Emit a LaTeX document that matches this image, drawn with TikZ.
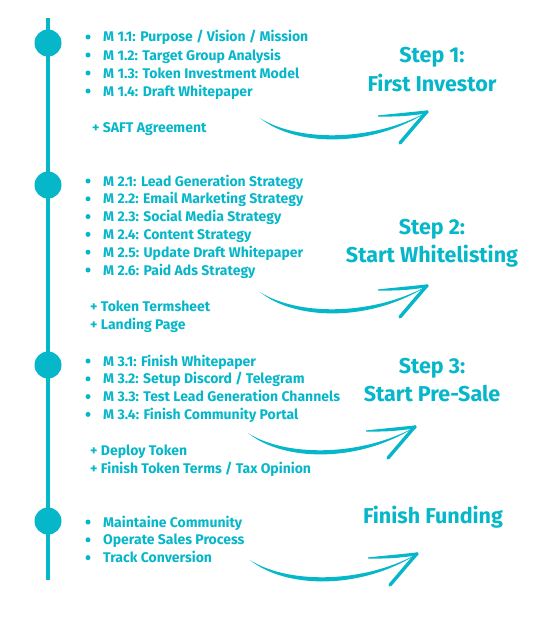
\documentclass[tikz,border=0pt]{standalone}
\usepackage{fontspec}
\setmainfont{Fira Sans}
\definecolor{teal}{RGB}{6,182,201}
\tikzset{
  item/.style={anchor=west, inner sep=0pt, text height=10pt, text depth=3pt, text=teal, font=\fontsize{14}{16}\selectfont\bfseries},
  extra/.style={item},
  bul/.style={circle, fill=teal, inner sep=0pt, minimum size=5pt},
  dot/.style={circle, fill=teal, inner sep=0pt, minimum size=27pt},
  head/.style={anchor=center, inner sep=0pt, text height=15pt, text depth=5pt, text=teal, font=\fontsize{21.5}{25}\selectfont\bfseries},
  swoosh/.pic={
    \fill[teal] (0,0) .. controls (35,23) and (110,25) .. (167,-6)
       .. controls (110,30.5) and (35,28.5) .. (0,0) -- cycle;
    \fill[teal] (118,-2.6) .. controls (142,-4.5) .. (167.5,-7.6)
       -- (166.5,-4.4) .. controls (142,-1.5) .. (118,-1.4) -- cycle;
    \draw[teal, line width=3.4pt, line cap=round] (166.5,-6) .. controls (154,9) .. (140,25);
    \fill[teal] (167,-6) circle (1.9);
  }
}
\begin{document}
\begin{tikzpicture}[x=1pt, y=-1pt]
\useasboundingbox (0,0) rectangle (547,618);
% timeline
\coordinate (ltop) at (48,18);
\coordinate (lbot) at (48,580);
\draw[teal, line width=4pt] (ltop) -- (lbot);
\node[dot] (c1) at (48,43) {};
\node[dot] (c2) at (48,185) {};
\node[dot] (c3) at (48,365) {};
\node[dot] (c4) at (48,521) {};
% group 1
\foreach \t [count=\i] in {M 1.1: Purpose / Vision / Mission,M 1.2: Target Group Analysis,M 1.3: Token Investment Model,M 1.4: Draft Whitepaper}{
  \node[bul] (ba\i) at (88,{37+18*(\i-1)}) {};
  \node[item] (ta\i) at (103,{38.5+18*(\i-1)}) {\t};
}
\node[extra] (xa1) at (92,128.5) {+ SAFT Agreement};
% group 2
\foreach \t [count=\i] in {M 2.1: Lead Generation Strategy,M 2.2: Email Marketing Strategy,M 2.3: Social Media Strategy,M 2.4: Content Strategy,M 2.5: Update Draft Whitepaper,M 2.6: Paid Ads Strategy}{
  \node[bul] (bb\i) at (88,{181+17.8*(\i-1)}) {};
  \node[item] (tb\i) at (103,{182.5+17.8*(\i-1)}) {\t};
}
\node[extra] (xb1) at (90,307.5) {+ Token Termsheet};
\node[extra] (xb2) at (90,325.5) {+ Landing Page};
% group 3
\foreach \t [count=\i] in {M 3.1: Finish Whitepaper,M 3.2: Setup Discord / Telegram,M 3.3: Test Lead Generation Channels,M 3.4: Finish Community Portal}{
  \node[bul] (bc\i) at (88,{361+17.8*(\i-1)}) {};
  \node[item] (tc\i) at (103,{362.5+17.8*(\i-1)}) {\t};
}
\node[extra] (xc1) at (90,451.5) {+ Deploy Token};
\node[extra] (xc2) at (90,469.5) {+ Finish Token Terms / Tax Opinion};
% group 4
\foreach \t [count=\i] in {Maintaine Community,Operate Sales Process,Track Conversion}{
  \node[bul] (bd\i) at (88,{522+17.8*(\i-1)}) {};
  \node[item] (td\i) at (103,{523.5+17.8*(\i-1)}) {\t};
}
% headings
\node[head] (h1a) at (432,58) {Step 1:};
\node[head] (h1b) at (432,86) {First Investor};
\node[head] (h2a) at (432,229) {Step 2:};
\node[head] (h2b) at (432,257) {Start Whitelisting};
\node[head] (h3a) at (432,368) {Step 3:};
\node[head] (h3b) at (432,396) {Start Pre-Sale};
\node[head] (h4) at (433,518) {Finish Funding};
% swoosh arrows
\pic at (260,118) {swoosh};
\pic at (260,292) {swoosh};
\pic at (248,433) {swoosh};
\pic at (250,560) {swoosh};
\end{tikzpicture}
\end{document}
